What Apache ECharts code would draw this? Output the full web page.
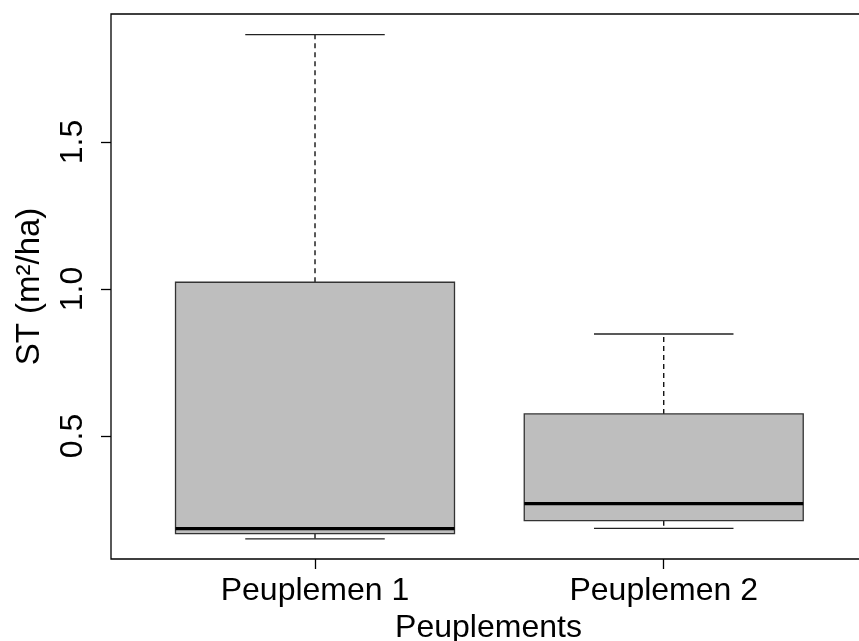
<!DOCTYPE html>
<html>
<head>
<meta charset="utf-8">
<script src="https://cdn.jsdelivr.net/npm/echarts@6/dist/echarts.min.js"></script>
<style>
  html, body { margin: 0; padding: 0; background: #fff; }
  #chart { width: 859px; height: 641px; }
</style>
</head>
<body>
<div id="chart"></div>
<script>
// boxplot stats
var categories = ['Peuplemen 1', 'Peuplemen 2'];
var positions = [1, 2];
var lowWhisker = [0.150, 0.186];
var q1 = [0.168, 0.212];
var median = [0.185, 0.270];
var q3 = [1.023, 0.575];
var highWhisker = [1.865, 0.847];
var yTicks = [0.5, 1.0, 1.5];

var boxData = [];
for (var i = 0; i < categories.length; i++) {
  boxData.push([positions[i], lowWhisker[i], q1[i], median[i], q3[i], highWhisker[i]]);
}

var font = 'Liberation Sans, Arial, sans-serif';
var BOXWEX = 0.8;

function renderBox(params, api) {
  var x = api.value(0);
  var pLo = api.coord([x, api.value(1)]);
  var pQ1 = api.coord([x, api.value(2)]);
  var pMed = api.coord([x, api.value(3)]);
  var pQ3 = api.coord([x, api.value(4)]);
  var pHi = api.coord([x, api.value(5)]);
  var half = api.size([BOXWEX, 0])[0] / 2;
  var cap = half / 2;
  var cx = pMed[0];
  var dashed = { stroke: '#000', lineWidth: 1.3, lineDash: [5, 4] };
  var solid = { stroke: '#222', lineWidth: 1.3 };
  return {
    type: 'group',
    children: [
      { type: 'line', shape: { x1: cx, y1: pQ3[1], x2: cx, y2: pHi[1] }, style: dashed },
      { type: 'line', shape: { x1: cx, y1: pQ1[1], x2: cx, y2: pLo[1] }, style: dashed },
      { type: 'line', shape: { x1: cx - cap, y1: pHi[1], x2: cx + cap, y2: pHi[1] }, style: solid },
      { type: 'line', shape: { x1: cx - cap, y1: pLo[1], x2: cx + cap, y2: pLo[1] }, style: solid },
      { type: 'rect', shape: { x: cx - half, y: pQ3[1], width: half * 2, height: pQ1[1] - pQ3[1] },
        style: { fill: '#bebebe', stroke: '#333', lineWidth: 1.3 } },
      { type: 'line', shape: { x1: cx - half, y1: pMed[1], x2: cx + half, y2: pMed[1] },
        style: { stroke: '#000', lineWidth: 3.2 } }
    ]
  };
}

var chart = echarts.init(document.getElementById('chart'));
chart.setOption({
  animation: false,
  backgroundColor: '#fff',
  textStyle: { fontFamily: font },
  grid: {
    left: 111, top: 14, right: -7, bottom: 82,
    outerBoundsMode: 'none', containLabel: false,
    show: true, borderColor: '#000', borderWidth: 1.3, backgroundColor: 'transparent'
  },
  xAxis: {
    type: 'value', min: 0.415, max: 2.58,
    splitLine: { show: false },
    axisLine: { show: false },
    axisTick: { show: true, inside: false, length: 10, customValues: positions, lineStyle: { color: '#000', width: 1.3 } },
    axisLabel: {
      customValues: positions, margin: 16, fontSize: 32, color: '#000', fontFamily: font,
      formatter: function (v) { return categories[Math.round(v) - 1]; }
    },
    name: 'Peuplements', nameLocation: 'middle', nameGap: 53,
    nameTextStyle: { fontSize: 32, color: '#000', fontFamily: font }
  },
  yAxis: {
    type: 'value', min: 0.0816, max: 1.9354,
    splitLine: { show: false },
    axisLine: { show: false },
    axisTick: { show: true, inside: false, length: 10, customValues: yTicks, lineStyle: { color: '#000', width: 1.3 } },
    axisLabel: {
      customValues: yTicks, rotate: 90, margin: 22, fontSize: 32, color: '#000', fontFamily: font,
      formatter: function (v) { return v.toFixed(1); }
    },
    name: 'ST (m²/ha)', nameLocation: 'middle', nameRotate: 90, nameGap: 65,
    nameTextStyle: { fontSize: 33, color: '#000', fontFamily: font }
  },
  series: [{
    type: 'custom',
    renderItem: renderBox,
    encode: { x: 0, y: [1, 2, 3, 4, 5] },
    data: boxData
  }]
});
</script>
</body>
</html>
